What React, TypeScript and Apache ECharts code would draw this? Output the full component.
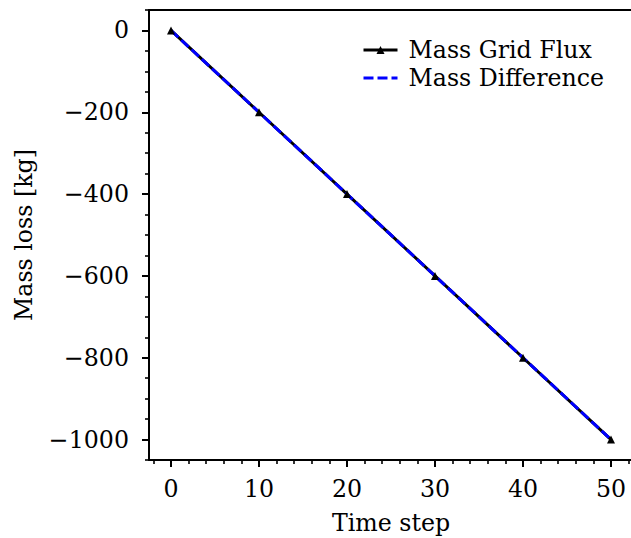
import React, { useEffect, useRef } from "react";
import * as echarts from "echarts";

const timeSteps = [0, 10, 20, 30, 40, 50];
const massGridFlux = [0, -200, -400, -600, -800, -1000];
const massDifference = [0, -200, -400, -600, -800, -1000];
const xMajorTicks = [0, 10, 20, 30, 40, 50];
const xMinorTicks = [-2, 2, 4, 6, 8, 12, 14, 16, 18, 22, 24, 26, 28, 32, 34, 36, 38, 42, 44, 46, 48, 52];
const yMajorTicks = [0, -200, -400, -600, -800, -1000];
const yMinorTicks = [50, -50, -100, -150, -250, -300, -350, -450, -500, -550, -650, -700, -750, -850, -900, -950, -1050];

const FONT = "DejaVu Serif";
const FS = 23.7;

export default function App() {
  const ref = useRef<HTMLDivElement>(null);
  useEffect(() => {
    if (!ref.current) return;
    const chart = echarts.init(ref.current, null, { renderer: "svg" });
    const fmt = (v: number) => (v < 0 ? "\u2212" + Math.abs(v) : String(v));
    const baseX = { type: "value", min: -2.5, max: 52.5, gridIndex: 0, splitLine: { show: false } };
    const baseY = { type: "value", min: -1050, max: 50, gridIndex: 0, splitLine: { show: false } };
    chart.setOption({
      animation: false,
      backgroundColor: "#ffffff",
      textStyle: { fontFamily: FONT },
      grid: { left: 149, top: 10, width: 484, height: 450, containLabel: false, outerBoundsMode: "none" },
      legend: {
        left: 357, top: 33, orient: "vertical", itemWidth: 34, itemHeight: 10, itemGap: 4,
        textStyle: { fontFamily: FONT, fontSize: FS, color: "#000", padding: [0, 0, 0, 6] },
        lineStyle: { width: 3 },
        data: [
          { name: "Mass Grid Flux" },
          { name: "Mass Difference", itemStyle: { opacity: 0 } },
        ],
      },
      xAxis: [
        {
          ...baseX,
          position: "bottom",
          name: "Time step", nameLocation: "middle", nameGap: 51,
          nameTextStyle: { fontFamily: FONT, fontSize: FS, color: "#000" },
          axisLine: { show: true, onZero: false, lineStyle: { color: "#000", width: 2 } },
          axisTick: { show: true, customValues: xMajorTicks, length: 7, lineStyle: { color: "#000", width: 2 } },
          axisLabel: { customValues: xMajorTicks, margin: 17, fontFamily: FONT, fontSize: FS, color: "#000", formatter: fmt },
        },
        {
          ...baseX,
          position: "bottom",
          axisLine: { show: false, onZero: false },
          axisTick: { show: true, customValues: xMinorTicks, length: 4, lineStyle: { color: "#000", width: 1.6 } },
          axisLabel: { show: false },
        },
        {
          ...baseX,
          position: "top",
          axisLine: { show: true, onZero: false, lineStyle: { color: "#000", width: 2 } },
          axisTick: { show: false },
          axisLabel: { show: false },
        },
      ],
      yAxis: [
        {
          ...baseY,
          position: "left",
          name: "Mass loss [kg]", nameLocation: "middle", nameGap: 113,
          nameTextStyle: { fontFamily: FONT, fontSize: FS, color: "#000" },
          axisLine: { show: true, onZero: false, lineStyle: { color: "#000", width: 2 } },
          axisTick: { show: true, customValues: yMajorTicks, length: 7, lineStyle: { color: "#000", width: 2 } },
          axisLabel: { customValues: yMajorTicks, margin: 20, fontFamily: FONT, fontSize: FS, color: "#000", formatter: fmt },
        },
        {
          ...baseY,
          position: "left",
          axisLine: { show: false, onZero: false },
          axisTick: { show: true, customValues: yMinorTicks, length: 4, lineStyle: { color: "#000", width: 1.6 } },
          axisLabel: { show: false },
        },
      ],
      series: [
        {
          name: "Mass Grid Flux",
          type: "line",
          xAxisIndex: 0, yAxisIndex: 0,
          data: timeSteps.map((t, i) => [t, massGridFlux[i]]),
          lineStyle: { color: "#000", width: 3 },
          itemStyle: { color: "#000" },
          symbol: "triangle", symbolSize: 8, showSymbol: true,
        },
        {
          name: "Mass Difference",
          type: "line",
          xAxisIndex: 0, yAxisIndex: 0,
          data: timeSteps.map((t, i) => [t, massDifference[i]]),
          lineStyle: { color: "#0000ff", width: 3, type: [10, 4] },
          itemStyle: { color: "#0000ff" },
          symbol: "none", showSymbol: false,
        },
      ],
    });
    return () => chart.dispose();
  }, []);
  return <div ref={ref} style={{ position: "fixed", left: 0, top: 0, width: 631, height: 538 }} />;
}
